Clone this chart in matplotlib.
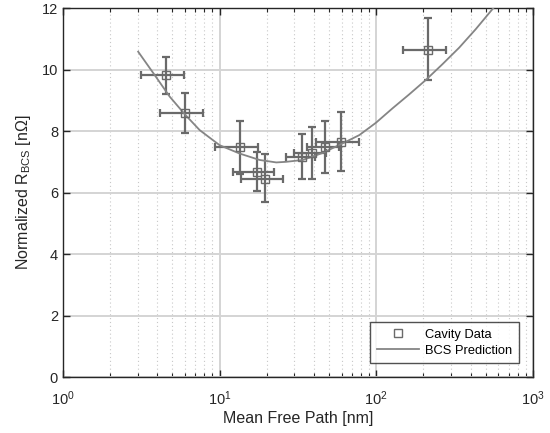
import numpy as np
import matplotlib.pyplot as plt
from matplotlib.ticker import LogLocator, NullFormatter

plt.rcParams['font.family'] = ['Liberation Sans', 'DejaVu Sans']
plt.rcParams['mathtext.fontset'] = 'custom'
plt.rcParams['mathtext.rm'] = 'Liberation Sans'
plt.rcParams['mathtext.it'] = 'Liberation Sans:italic'

# cavity measurements: mean free path [nm] and normalized R_BCS [nOhm]
mfp = [4.53, 5.98, 13.5, 17.2, 19.5, 33.6, 38.9, 47.0, 59.3, 213.0]
mfpErr = [1.38, 1.8, 4.1, 5.1, 5.9, 7.0, 9.0, 11.0, 18.0, 66.0]
rbcs = [9.82, 8.58, 7.49, 6.66, 6.44, 7.16, 7.29, 7.49, 7.65, 10.63]
rbcsLow = [9.20, 7.95, 6.62, 6.05, 5.68, 6.44, 6.44, 6.64, 6.70, 9.66]
rbcsHigh = [10.42, 9.25, 8.34, 7.33, 7.24, 7.90, 8.12, 8.34, 8.63, 11.69]

# BCS prediction curve
curveMfp = [3.02, 3.85, 4.80, 5.98, 7.46, 10.0, 13.4, 18.0, 23.0, 26.6, 33.9,
            45.0, 61.0, 78.0, 99.5, 127.0, 162.0, 207.0, 264.0, 338.0, 431.0, 559.0]
curveR = [10.58, 9.82, 9.12, 8.55, 8.03, 7.54, 7.27, 7.06, 6.98, 7.00, 7.06,
          7.28, 7.60, 7.87, 8.27, 8.74, 9.19, 9.66, 10.17, 10.71, 11.31, 12.00]

yErr = [np.array(rbcs) - np.array(rbcsLow), np.array(rbcsHigh) - np.array(rbcs)]

fig = plt.figure(figsize=(5.5, 4.33), dpi=100)
ax = fig.add_axes([0.1145, 0.129, 0.8545, 0.8525])

ax.set_xscale('log')
ax.set_xlim(1, 1000)
ax.set_ylim(0, 12)

ax.grid(True, which='major', color='#d4d4d4', linewidth=1.4, linestyle='-')
ax.grid(True, which='minor', axis='x', color='#c8c8c8', linewidth=0.8, linestyle=(0, (1, 2.5)))
ax.set_axisbelow(True)

ax.errorbar(mfp, rbcs, xerr=mfpErr, yerr=yErr, fmt='none', ecolor='#6a6a6a',
            elinewidth=1.6, capsize=2.8, capthick=1.6, zorder=3)
ax.plot(curveMfp, curveR, color='#858585', linewidth=1.3, zorder=4, label='BCS Prediction')
ax.plot(mfp, rbcs, linestyle='none', marker='s', markersize=5.5, markerfacecolor='none',
        markeredgecolor='#6a6a6a', markeredgewidth=1.0, zorder=5, label='Cavity Data')

ax.xaxis.set_major_locator(LogLocator(base=10, numticks=10))
ax.xaxis.set_minor_locator(LogLocator(base=10, subs=np.arange(2, 10), numticks=10))
ax.xaxis.set_minor_formatter(NullFormatter())
ax.set_yticks([0, 2, 4, 6, 8, 10, 12])

ax.tick_params(which='both', direction='in', top=True, right=True, colors='#262626',
               labelsize=10.5)
ax.tick_params(which='major', length=5, width=1.0)
ax.tick_params(which='minor', length=3, width=0.8)
ax.tick_params(axis='x', which='major', pad=9)
for s in ax.spines.values():
    s.set_color('#262626')
    s.set_linewidth(1.0)

ax.set_xlabel('Mean Free Path [nm]', fontsize=11.5, color='#262626', labelpad=2)
ax.set_ylabel(r'Normalized R$_{\mathrm{BCS}}$ [n$\Omega$]', fontsize=11.5, color='#262626', labelpad=6)

handles, labels = ax.get_legend_handles_labels()
leg = ax.legend(handles[::-1], labels[::-1], loc='lower right', bbox_to_anchor=(0.970, 0.038),
                borderaxespad=0, fontsize=9.3, frameon=True, fancybox=False, edgecolor='#262626',
                handlelength=3.3, handletextpad=0.45, borderpad=0.5, labelspacing=0.3)
leg.get_frame().set_linewidth(1.0)

fig.savefig('out.png', dpi=100)
